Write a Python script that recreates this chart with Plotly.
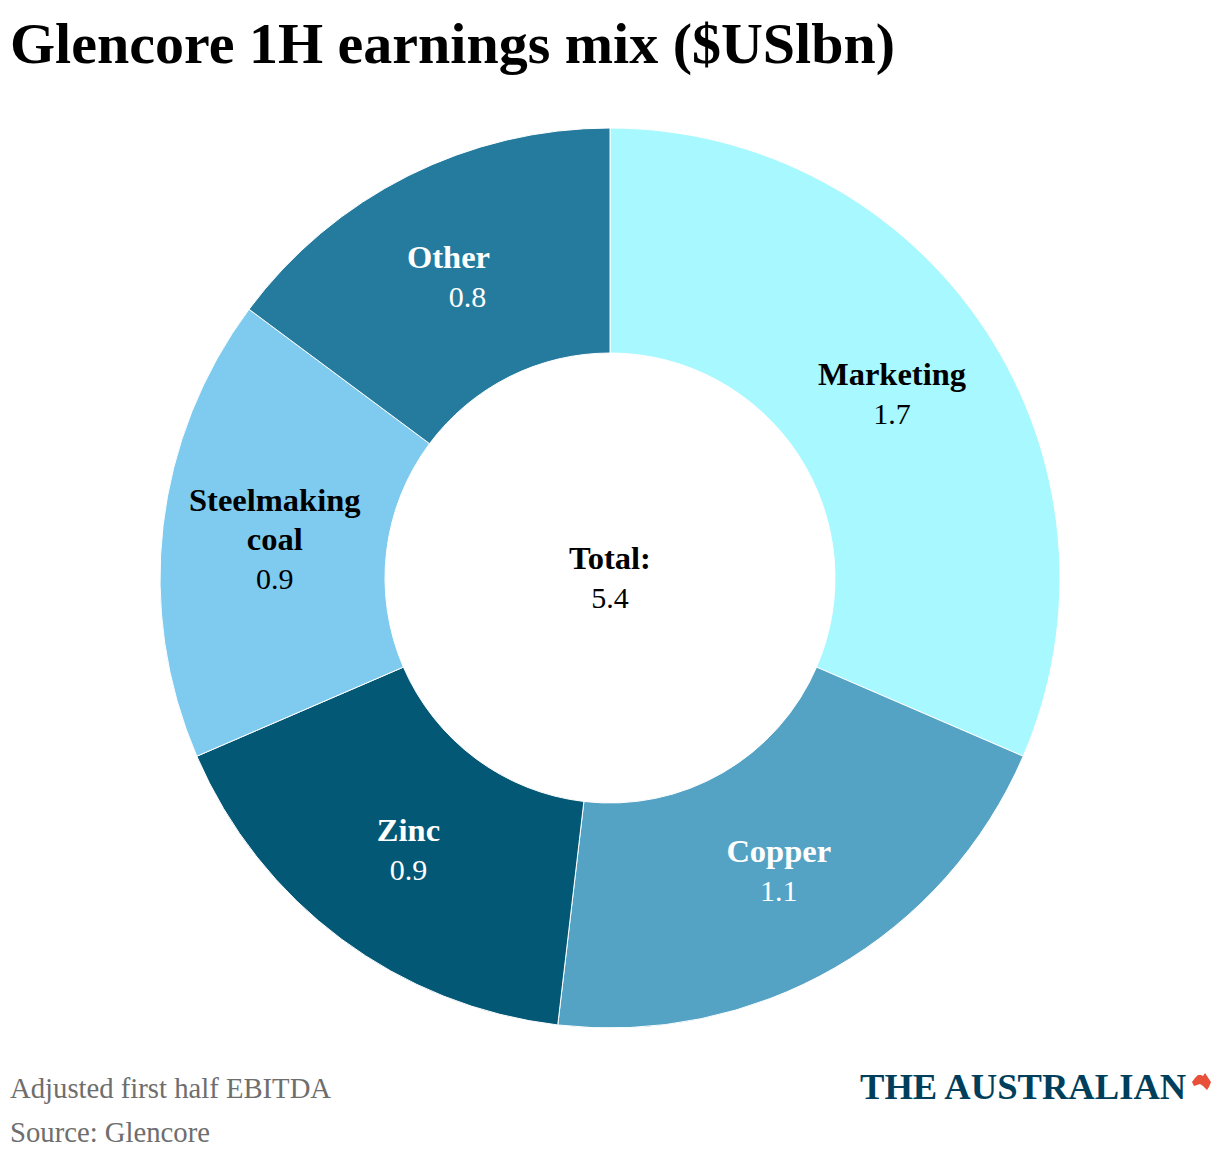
import plotly.graph_objects as go

categories = ["Marketing", "Copper", "Zinc", "Steelmaking coal", "Other"]
values = [1.7, 1.1, 0.9, 0.9, 0.8]
colors = ["#a8f8ff", "#54a3c5", "#035876", "#7fcbef", "#247b9d"]
label_colors = ["#000000", "#ffffff", "#ffffff", "#000000", "#ffffff"]
B = '<span style="font-size:32.5px"><b>%s</b></span>'
NB = "\u00a0"
PAD1 = '<span style="font-size:26.7px">' + NB * 3 + "</span>"
PAD2 = '<span style="font-size:24px">' + NB * 3 + "</span>"
label_text = [B % "Marketing" + "<br>1.7", B % "Copper" + "<br>1.1", B % "Zinc" + "<br>0.9",
              B % "Steelmaking" + "<br>" + B % "coal" + "<br>0.9",
              B % "Other" + PAD1 + "<br>" + PAD2 + "0.8"]
logo_mark = [(1192, 1082), (1195, 1078), (1198, 1075), (1201, 1075), (1203, 1076), (1205, 1073), (1207, 1076),
             (1211, 1082), (1209, 1087), (1207, 1090), (1203, 1086), (1200, 1084), (1194, 1086)]
SERIF = "Liberation Serif, DejaVu Serif, serif"

fig = go.Figure(go.Pie(
    labels=categories, values=values, hole=0.5, sort=False, direction="clockwise",
    rotation=0, marker=dict(colors=colors, line=dict(color="#ffffff", width=1)),
    text=label_text, textinfo="text", textposition="inside", insidetextorientation="horizontal",
    textfont=dict(family=SERIF, size=30, color=label_colors), showlegend=False,
    domain=dict(x=[160/1220, 1060/1220], y=[1-1028/1160, 1-128/1160]),
))
path = "M " + " L ".join("%f %f" % (px/1220, 1-py/1160) for px, py in logo_mark) + " Z"
fig.update_layout(
    width=1220, height=1160, margin=dict(l=0, r=0, t=0, b=0), paper_bgcolor="#fff",
    annotations=[
        dict(text="<b>Glencore 1H earnings mix ($USlbn)</b>", x=7.5/1220, y=1-44/1160, xref="paper", yref="paper",
             xanchor="left", yanchor="middle", showarrow=False, font=dict(family=SERIF, size=58, color="#000")),
        dict(text=B % "Total:" + "<br>5.4", x=610/1220, y=1-577/1160, xref="paper", yref="paper",
             showarrow=False, font=dict(family=SERIF, size=30, color="#000")),
        dict(text="Adjusted first half EBITDA", x=7.5/1220, y=1-1088/1160, xref="paper", yref="paper",
             xanchor="left", yanchor="middle", showarrow=False, font=dict(family=SERIF, size=28.7, color="#6e6e6e")),
        dict(text="Source: Glencore", x=7.5/1220, y=1-1132/1160, xref="paper", yref="paper",
             xanchor="left", yanchor="middle", showarrow=False, font=dict(family=SERIF, size=28.7, color="#6e6e6e")),
        dict(text="<b>THE AUSTRALIAN</b>", x=857.5/1220, y=1-1086/1160, xref="paper", yref="paper",
             xanchor="left", yanchor="middle", showarrow=False, font=dict(family=SERIF, size=36.6, color="#003f5c")),
    ],
    shapes=[dict(type="path", xref="paper", yref="paper", fillcolor="#e8503a", line_width=0, path=path)],
)
fig.write_html("out.html", config={"displayModeBar": False}, post_script="document.body.style.margin='0';")
